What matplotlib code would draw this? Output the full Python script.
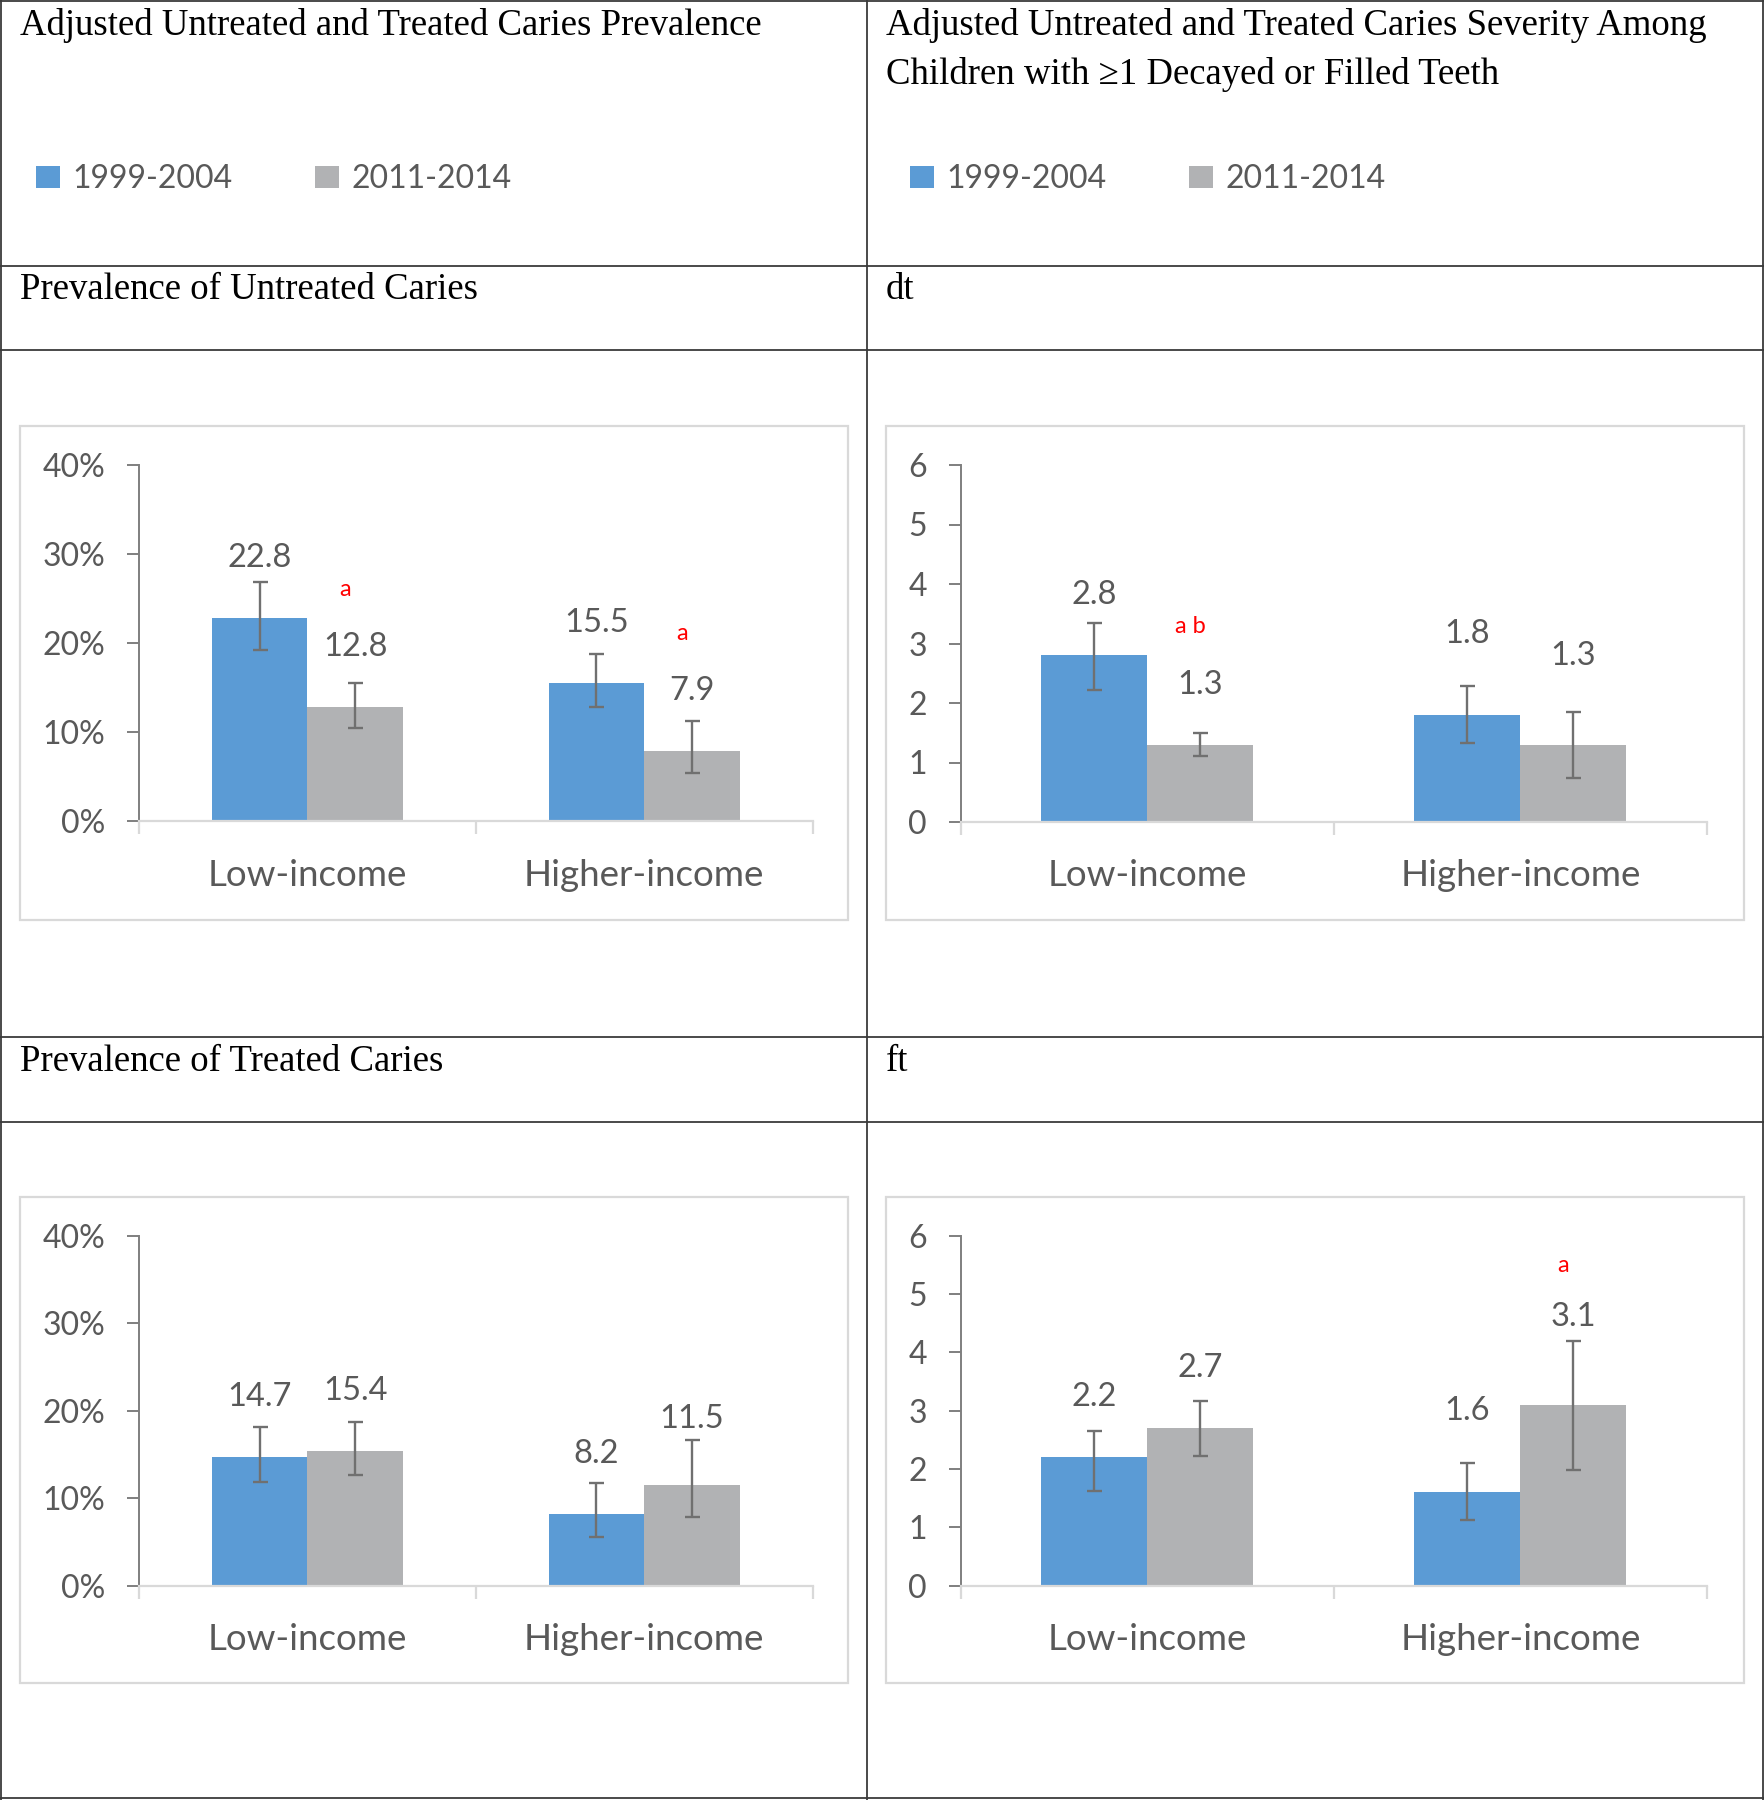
import matplotlib
matplotlib.use('Agg')
import matplotlib.pyplot as plt
import numpy as np
from matplotlib.patches import Rectangle, Patch
from matplotlib.lines import Line2D
from matplotlib.ticker import FuncFormatter

# data
groups = ['Low-income', 'Higher-income']
periods = ['1999-2004', '2011-2014']

untreated_1999 = [22.8, 15.5]
untreated_1999_lo = [19.2, 12.8]
untreated_1999_hi = [26.9, 18.8]
untreated_2011 = [12.8, 7.9]
untreated_2011_lo = [10.5, 5.4]
untreated_2011_hi = [15.5, 11.3]
untreated_marks = ['a', 'a']

treated_1999 = [14.7, 8.2]
treated_1999_lo = [11.9, 5.6]
treated_1999_hi = [18.1, 11.7]
treated_2011 = [15.4, 11.5]
treated_2011_lo = [12.6, 7.8]
treated_2011_hi = [18.7, 16.7]
treated_marks = ['', '']

dt_1999 = [2.8, 1.8]
dt_1999_lo = [2.22, 1.32]
dt_1999_hi = [3.34, 2.29]
dt_2011 = [1.3, 1.3]
dt_2011_lo = [1.11, 0.74]
dt_2011_hi = [1.50, 1.85]
dt_marks = ['a b', '']

ft_1999 = [2.2, 1.6]
ft_1999_lo = [1.63, 1.13]
ft_1999_hi = [2.66, 2.11]
ft_2011 = [2.7, 3.1]
ft_2011_lo = [2.22, 1.99]
ft_2011_hi = [3.16, 4.20]
ft_marks = ['', 'a']

BLUE = '#5b9bd5'
GRAY = '#b1b2b4'
TXT = '#595959'
AXC = '#7f7f7f'
ERRC = '#707070'
LIGHT = '#d9d9d9'
LINE = '#3a3a3a'

W, H = 1764, 1800
fig = plt.figure(figsize=(W / 100, H / 100), dpi=100)
fig.patch.set_facecolor('white')


def fx(px):
    return px / W


def fy(py):
    return 1 - py / H


def pt(px):
    return px * 0.72


# table grid
for x in [1, 867, 1763]:
    fig.add_artist(Line2D([fx(x), fx(x)], [0, 1], color=LINE, lw=1.3))
for y in [1, 266, 350, 1037, 1122, 1798]:
    fig.add_artist(Line2D([0, 1], [fy(y), fy(y)], color=LINE, lw=1.3))

serif = ['Liberation Serif', 'DejaVu Serif']
TS = 26.5
fig.text(fx(20), fy(35), 'Adjusted Untreated and Treated Caries Prevalence',
         family=serif, fontsize=TS, va='baseline')
fig.text(fx(886), fy(35), 'Adjusted Untreated and Treated Caries Severity Among',
         family=serif, fontsize=TS, va='baseline')
fig.text(fx(886), fy(84), 'Children with \u22651 Decayed or Filled Teeth',
         family=serif, fontsize=TS, va='baseline')
fig.text(fx(20), fy(299), 'Prevalence of Untreated Caries', family=serif, fontsize=TS, va='baseline')
fig.text(fx(886), fy(299), 'dt', family=serif, fontsize=TS, va='baseline')
fig.text(fx(20), fy(1071), 'Prevalence of Treated Caries', family=serif, fontsize=TS, va='baseline')
fig.text(fx(886), fy(1071), 'ft', family=serif, fontsize=TS, va='baseline')

# legends
handles = [Patch(facecolor=BLUE), Patch(facecolor=GRAY)]
for x0 in [36, 910]:
    fig.legend(handles, periods, loc='center left', bbox_to_anchor=(fx(x0), fy(179)),
               ncol=2, frameon=False, borderpad=0, borderaxespad=0,
               handlelength=0.75, handleheight=0.69, handletextpad=0.38,
               columnspacing=2.6, prop={'family': 'Lato', 'size': 23},
               labelcolor=TXT)


def draw_panel(box, axbox, s1, lo1, hi1, s2, lo2, hi2, marks, ymax, step, pct,
               lift1=(0, 0), lift2=(0, 0)):
    # light chart-area frame
    bx0, by0, bx1, by1 = box
    fig.add_artist(Rectangle((fx(bx0), fy(by1)), fx(bx1) - fx(bx0), (by1 - by0) / H,
                             fill=False, edgecolor=LIGHT, lw=1.6))
    x0, y0, x1, y1 = axbox
    ax = fig.add_axes([fx(x0), fy(y1), fx(x1) - fx(x0), (y1 - y0) / H])
    x = np.arange(len(groups))
    w = 0.284
    s1, s2 = np.array(s1), np.array(s2)
    ax.bar(x - w / 2, s1, w, color=BLUE)
    ax.bar(x + w / 2, s2, w, color=GRAY)
    ax.errorbar(x - w / 2, s1, yerr=[s1 - np.array(lo1), np.array(hi1) - s1], fmt='none',
                ecolor=ERRC, elinewidth=1.7, capsize=5.4, capthick=1.7)
    ax.errorbar(x + w / 2, s2, yerr=[s2 - np.array(lo2), np.array(hi2) - s2], fmt='none',
                ecolor=ERRC, elinewidth=1.7, capsize=5.4, capthick=1.7)
    # value labels sit a fixed distance above the bar tops (some nudged up, as in the source)
    for xs, vals, lifts in [(x - w / 2, s1, lift1), (x + w / 2, s2, lift2)]:
        for xi, v, lf in zip(xs, vals, lifts):
            ax.annotate(f'{v:.1f}', (xi, v), xytext=(0, pt(60 + lf)), textcoords='offset points',
                        ha='center', va='center', fontsize=23.5, color=TXT, family='Lato')
    for xi, v, lf, m in zip(x + w / 2, s2, lift2, marks):
        if m:
            ax.annotate(m, (xi, v), xytext=(pt(-10), pt(118 + 0.75 * lf)), textcoords='offset points',
                        ha='center', va='center', fontsize=17, color='#ff0000', family='Lato')

    ax.set_xlim(-0.5, len(groups) - 0.5)
    ax.set_ylim(0, ymax)
    ax.set_yticks(np.arange(0, ymax + step / 2, step))
    if pct:
        ax.yaxis.set_major_formatter(FuncFormatter(lambda v, p: f'{v:.0f}%'))
    ax.set_xticks(x)
    ax.set_xticklabels(groups)
    ax.set_xticks([-0.5, 0.5, 1.5], minor=True)
    for s in ['top', 'right']:
        ax.spines[s].set_visible(False)
    ax.spines['left'].set_color(AXC)
    ax.spines['left'].set_linewidth(1.4)
    ax.spines['bottom'].set_color(LIGHT)
    ax.spines['bottom'].set_linewidth(1.6)
    ax.tick_params(axis='y', direction='out', length=8.4, width=1.4, color=AXC,
                   pad=16, labelsize=23, labelcolor=TXT)
    ax.tick_params(axis='x', which='major', length=0, pad=27, labelsize=26.5, labelcolor=TXT)
    ax.tick_params(axis='x', which='minor', direction='out', length=9, width=1.6, color=LIGHT)
    for lab in ax.get_xticklabels() + ax.get_yticklabels():
        lab.set_family('Lato')
    ax.patch.set_alpha(0)
    return ax


draw_panel((20, 426, 848, 920), (139, 465, 812.6, 821.4),
           untreated_1999, untreated_1999_lo, untreated_1999_hi,
           untreated_2011, untreated_2011_lo, untreated_2011_hi, untreated_marks, 40, 10, True)
draw_panel((886, 426, 1744, 920), (960.6, 465, 1707, 822),
           dt_1999, dt_1999_lo, dt_1999_hi,
           dt_2011, dt_2011_lo, dt_2011_hi, dt_marks, 6, 1, False,
           lift1=(0, 21), lift2=(0, 29))
draw_panel((20, 1196.5, 848, 1683), (139, 1235.8, 812.6, 1585.6),
           treated_1999, treated_1999_lo, treated_1999_hi,
           treated_2011, treated_2011_lo, treated_2011_hi, treated_marks, 40, 10, True,
           lift2=(0, 6))
draw_panel((886, 1196.5, 1744, 1683), (960.6, 1235.8, 1707, 1585.6),
           ft_1999, ft_1999_lo, ft_1999_hi,
           ft_2011, ft_2011_lo, ft_2011_hi, ft_marks, 6, 1, False,
           lift1=(0, 21), lift2=(0, 28))

fig.savefig('out.png', dpi=100, facecolor='white')
